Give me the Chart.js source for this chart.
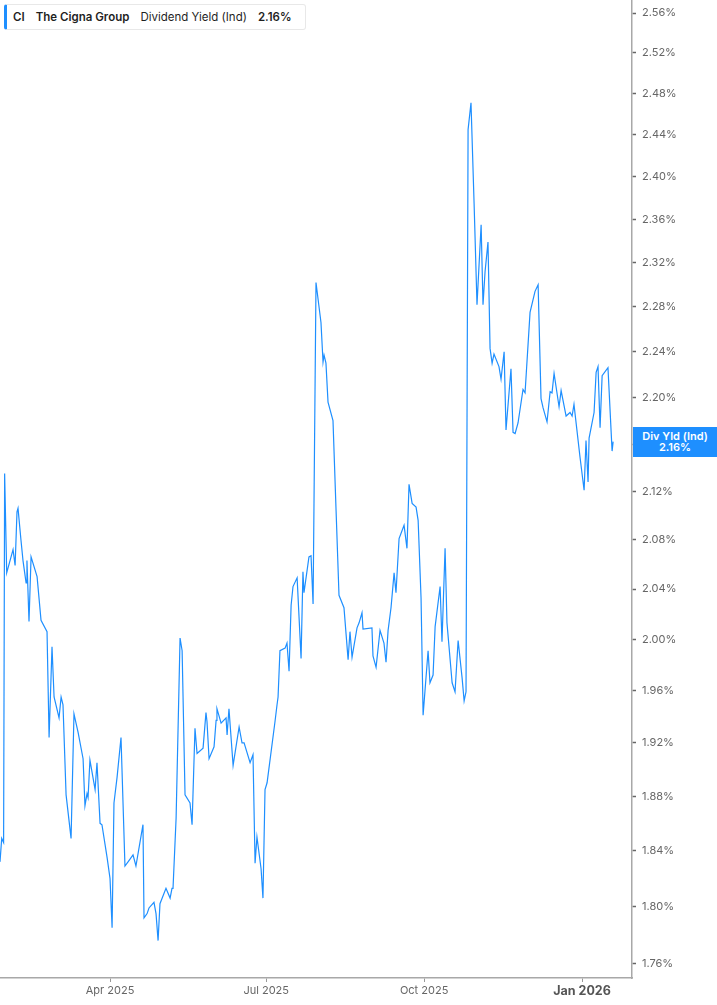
<!DOCTYPE html>
<html>
<head>
<meta charset="utf-8">
<script src="https://cdn.jsdelivr.net/npm/chart.js@4.4.1/dist/chart.umd.min.js"></script>
<style>
  html,body{margin:0;padding:0;background:#fff;}
  #wrap{position:relative;width:717px;height:1005px;overflow:hidden;}
  #c{position:absolute;left:0;top:0;}
  #legend{position:absolute;left:4px;top:4px;height:26px;width:302px;box-sizing:border-box;
    border:1px solid #e8e8e8;border-left:3px solid #1E8FFF;border-radius:3px;background:#fff;
    font-family:Inter,"Noto Sans",sans-serif;font-size:11.5px;color:#1f1f1f;display:flex;align-items:center;padding-left:6px;white-space:nowrap;}
  #legend .b{font-weight:600;}
  #legend span{margin-right:11px;}
  #tag{position:absolute;background:#1E8FFF;color:#fff;font-family:Inter,"Noto Sans",sans-serif;
    font-size:11px;font-weight:600;text-align:center;line-height:11px;display:flex;flex-direction:column;justify-content:center;}
</style>
</head>
<body>
<div id="wrap">
  <canvas id="c" width="717" height="1005" style="width:717px;height:1005px"></canvas>
  <div id="legend"><span class="b">CI</span><span class="b">The Cigna Group</span><span>Dividend Yield (Ind)</span><span class="b">2.16%</span></div>
  <div id="tag"><div>Div Yld (Ind)</div><div>2.16%</div></div>
</div>
<script>
// Day numbers counted from 1 Jan 2025 (day 0) and dividend yield in %
const days = [25.9,26.9,28.0,28.6,29.8,33.5,34.7,35.8,36.4,38.1,39.3,41.1,41.6,42.8,44.0,47.5,49.8,53.3,54.5,56.2,57.4,60.3,61.5,62.6,64.4,67.3,69.0,71.4,74.3,75.4,76.6,77.2,78.3,81.3,82.4,84.2,85.3,88.3,90.0,91.2,92.3,94.1,96.4,98.7,100.5,103.4,105.1,109.2,109.8,111.6,112.7,115.6,116.8,118.0,119.1,122.6,125.0,126.1,126.7,128.5,130.8,132.0,133.7,136.6,137.8,139.5,140.7,144.2,145.9,146.5,147.7,150.6,151.8,152.3,154.7,157.6,158.2,159.3,161.7,165.2,166.9,168.1,171.6,173.3,174.5,175.6,178.0,179.1,180.3,181.5,186.1,187.3,187.9,189.0,192.0,193.1,194.3,195.5,196.6,199.0,201.3,202.4,203.0,205.9,207.1,208.3,210.0,212.9,214.1,214.7,215.8,217.0,219.9,221.7,223.4,226.3,228.7,229.8,231.0,233.9,235.1,236.8,237.4,242.6,243.2,245.0,247.3,249.6,250.8,252.0,253.7,255.5,256.6,258.4,261.3,263.0,264.2,266.0,268.3,269.5,271.2,272.4,275.3,276.4,278.2,279.4,282.3,283.4,285.2,286.3,289.3,291.0,292.8,295.1,296.3,297.4,298.6,300.3,302.1,303.8,306.2,307.3,308.5,310.2,311.4,312.6,313.7,316.6,317.8,319.6,320.7,323.6,324.8,326.0,327.7,330.6,331.8,334.7,337.6,339.4,341.1,342.3,344.6,346.4,347.5,348.7,351.6,352.8,355.7,358.0,359.2,360.3,363.8,366.2,367.3,368.5,369.1,372.0,373.2,374.3,375.5,376.7,380.1,382.5,383.1];
const yields = [1.832,1.849,1.846,2.135,2.053,2.072,2.059,2.103,2.106,2.080,2.063,2.045,2.063,2.014,2.066,2.050,2.015,2.006,1.924,1.994,1.955,1.939,1.955,1.949,1.881,1.849,1.942,1.928,1.908,1.873,1.882,1.879,1.907,1.885,1.905,1.860,1.859,1.835,1.820,1.785,1.875,1.894,1.924,1.829,1.832,1.837,1.829,1.859,1.792,1.795,1.799,1.803,1.795,1.776,1.802,1.813,1.806,1.813,1.813,1.864,2.001,1.991,1.881,1.875,1.859,1.931,1.912,1.916,1.943,1.936,1.908,1.917,1.937,1.946,1.935,1.939,1.926,1.946,1.903,1.932,1.920,1.920,1.905,1.911,1.831,1.850,1.827,1.806,1.885,1.890,1.936,1.949,1.955,1.991,1.993,1.997,1.975,2.027,2.042,2.049,1.985,2.054,2.037,2.066,2.067,2.028,2.302,2.266,2.231,2.237,2.230,2.196,2.180,2.104,2.035,2.025,1.984,2.006,1.986,2.009,2.013,2.021,2.008,2.009,1.987,1.978,2.007,1.997,1.982,2.007,2.025,2.053,2.037,2.081,2.092,2.073,2.126,2.110,2.107,2.096,2.033,1.941,1.991,1.966,1.972,2.010,2.042,1.998,2.073,2.013,1.966,1.959,1.999,1.970,1.952,1.959,2.445,2.471,2.375,2.282,2.355,2.282,2.312,2.339,2.243,2.230,2.238,2.227,2.216,2.240,2.172,2.225,2.170,2.169,2.178,2.207,2.204,2.275,2.294,2.300,2.199,2.191,2.179,2.205,2.204,2.221,2.192,2.206,2.184,2.187,2.184,2.194,2.149,2.121,2.163,2.128,2.165,2.187,2.222,2.227,2.174,2.219,2.226,2.154,2.162];

const xTickDays = [90, 181, 273, 365];
const xTickLabels = ['Apr 2025', 'Jul 2025', 'Oct 2025', 'Jan 2026'];
const yTickValues = [1.76,1.80,1.84,1.88,1.92,1.96,2.00,2.04,2.08,2.12,2.16,2.20,2.24,2.28,2.32,2.36,2.40,2.44,2.48,2.52,2.56];

const LINE = '#1E8FFF';
Chart.defaults.font.family = 'Inter, "Noto Sans", sans-serif';

const tagPlugin = {
  id: 'tag',
  afterRender(chart) {
    const ys = chart.scales.y;
    const area = chart.chartArea;
    const last = yields[yields.length - 1];
    const py = ys.getPixelForValue(last);
    const tag = document.getElementById('tag');
    const h = 30;
    tag.style.left = (area.right + 1) + 'px';
    tag.style.width = (717 - area.right - 1) + 'px';
    tag.style.top = Math.round(py - h / 2) + 'px';
    tag.style.height = h + 'px';
  }
};

new Chart(document.getElementById('c'), {
  type: 'line',
  data: {
    datasets: [{
      data: days.map((d, i) => ({ x: d, y: yields[i] })),
      borderColor: LINE,
      borderWidth: 1.2,
      pointRadius: 0,
      tension: 0,
      fill: false
    }]
  },
  options: {
    responsive: false,
    animation: false,
    layout: { padding: 0 },
    plugins: { legend: { display: false }, tooltip: { enabled: false } },
    scales: {
      x: {
        type: 'linear',
        min: 25.9,
        max: 394.1,
        afterBuildTicks(scale) { scale.ticks = xTickDays.map(v => ({ value: v })); },
        afterFit(scale) { scale.height = 27; scale.paddingLeft = 0; scale.paddingRight = 0; },
        grid: { drawOnChartArea: false, drawTicks: true, tickLength: 4, tickColor: '#999' },
        border: { display: true, color: '#a8a8a8', width: 1.5 },
        ticks: {
          autoSkip: false,
          maxRotation: 0,
          padding: 2,
          callback(v) { const i = xTickDays.indexOf(v); return i >= 0 ? xTickLabels[i] : ''; },
          color(ctx) { return ctx.tick && ctx.tick.value === 365 ? '#555' : '#666'; },
          font(ctx) { return ctx.tick && ctx.tick.value === 365 ? { size: 12.5, weight: 'bold' } : { size: 11 }; }
        }
      },
      y: {
        type: 'logarithmic',
        position: 'right',
        min: 1.7524,
        max: 2.5732,
        afterBuildTicks(scale) { scale.ticks = yTickValues.map(v => ({ value: v })); },
        afterFit(scale) { scale.width = 85; scale.paddingTop = 0; scale.paddingBottom = 0; },
        grid: { drawOnChartArea: false, drawTicks: true, tickLength: 4, tickColor: '#666', tickWidth: 1.5 },
        border: { display: true, color: '#a8a8a8', width: 1.5 },
        ticks: {
          autoSkip: false,
          padding: 6,
          color: '#666',
          font: { size: 11 },
          callback(v) { return Number(v).toFixed(2) + '%'; }
        }
      }
    }
  },
  plugins: [tagPlugin]
});
</script>
</body>
</html>
